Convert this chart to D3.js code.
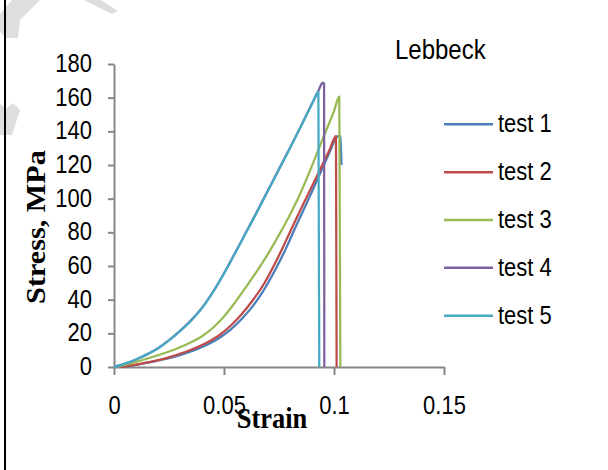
<!DOCTYPE html>
<html>
<head>
<meta charset="utf-8">
<script src="https://cdn.jsdelivr.net/npm/d3@7"></script>
<style>
  html, body { margin: 0; padding: 0; background: #fff; }
  svg { display: block; }
</style>
</head>
<body>
<script>
// ---- data ----
const seriesNames = ["test 1", "test 2", "test 3", "test 4", "test 5"];
const seriesColors = ["#4A7EBB", "#BE4B48", "#98B954", "#7D60A0", "#46AAC5"];

const test1 = [[0.004,0],[0.008,0.8],[0.013,2],[0.018,3.2],[0.023,4.6],[0.028,6.3],[0.033,8.3],[0.038,10.7],[0.043,13.6],[0.048,17.4],[0.053,22.2],[0.058,28.5],[0.063,36],[0.068,45.5],[0.073,57],[0.078,70],[0.083,84.5],[0.088,98.5],[0.093,113],[0.098,127.5],[0.1012,136.5],[0.1028,137.5],[0.1034,120]];
const test2 = [[0.003,0],[0.008,1],[0.013,2.2],[0.018,3.5],[0.023,5],[0.028,7],[0.033,9.2],[0.038,11.8],[0.043,15],[0.048,19],[0.053,24.5],[0.058,31.3],[0.063,39.5],[0.068,49],[0.073,61],[0.078,74.5],[0.083,88.5],[0.088,102],[0.093,115.5],[0.098,129],[0.1009,137.2],[0.1012,0]];
const test3 = [[0,0],[0.005,1.2],[0.01,3],[0.015,5],[0.02,7],[0.025,9.2],[0.03,11.7],[0.035,14.7],[0.04,18.3],[0.045,23.3],[0.05,30],[0.055,38.3],[0.06,47.5],[0.065,57],[0.07,67.2],[0.075,78.5],[0.08,90.5],[0.085,104],[0.09,119.5],[0.095,136],[0.1,152],[0.1024,160.6],[0.1029,0]];
const test4 = [[0,0],[0.005,2],[0.01,4.5],[0.015,7.5],[0.02,11.2],[0.025,16],[0.03,21.5],[0.035,27.7],[0.04,35.2],[0.045,44.7],[0.05,55.7],[0.055,67.7],[0.06,80],[0.065,92.3],[0.07,105],[0.075,117.7],[0.08,130.3],[0.085,143.2],[0.09,156.5],[0.0929,164],[0.0945,168.5],[0.0952,169],[0.0955,168],[0.0956,0]];
const test5 = [[0,0],[0.005,2],[0.01,4.5],[0.015,7.5],[0.02,11],[0.025,15.8],[0.03,21.3],[0.035,27.5],[0.04,35],[0.045,44.5],[0.05,55.5],[0.055,67.5],[0.06,79.7],[0.065,92],[0.07,104.7],[0.075,117.3],[0.08,130],[0.085,143],[0.09,156.2],[0.0929,163.5],[0.0933,0]];
const seriesData = [test1, test2, test3, test4, test5];

const xTicks = [0, 0.05, 0.1, 0.15];
const xTickLabels = ["0", "0.05", "0.1", "0.15"];
const yTicks = [0, 20, 40, 60, 80, 100, 120, 140, 160, 180];

const chartTitle = "Lebbeck";
const xTitle = "Strain";
const yTitle = "Stress, MPa";

// ---- drawing ----
const W = 608, H = 470;
const SY = 1.14; // vertical stretch of text in the picture
const svg = d3.select("body").append("svg").attr("width", W).attr("height", H);

// faint watermark shapes at top-left
const wm = [
  [[12,0],[40,0],[20,20],[18,38],[6,38],[0,32],[0,14]],
  [[84,0],[101,0],[118,11],[112,14]],
  [[0,104],[7,108],[13,103],[20,110],[12,135],[0,135]]
];
svg.selectAll("polygon.wm").data(wm).join("polygon")
  .attr("class", "wm")
  .attr("points", d => d.map(p => p.join(",")).join(" "))
  .attr("fill", "#dedede");

// left border line
svg.append("line").attr("x1", 5).attr("x2", 5).attr("y1", 0).attr("y2", H)
  .attr("stroke", "#000").attr("stroke-width", 2);

const x = d3.scaleLinear().domain([0, 0.15]).range([114, 444]);
const y = d3.scaleLinear().domain([0, 180]).range([367, 64]);

const axisColor = "#868686";
const fontSans = "'Liberation Sans', Arial, sans-serif";
const fontSerif = "'Liberation Serif', 'Times New Roman', serif";

// Y axis
const gy = svg.append("g").attr("transform", "translate(114,0)")
  .call(d3.axisLeft(y).tickValues(yTicks).tickSize(6).tickSizeOuter(0).tickFormat(d3.format("d")));
gy.select(".domain").attr("stroke", axisColor).attr("stroke-width", 2);
gy.selectAll(".tick line").attr("stroke", axisColor).attr("stroke-width", 2);
gy.selectAll(".tick text")
  .attr("x", -22).attr("dy", null).attr("y", 6.6)
  .attr("transform", `scale(1,${SY})`)
  .attr("font-family", fontSans).attr("font-size", 22).attr("fill", "#000")
  .attr("text-anchor", "end");

// X axis
const gx = svg.append("g").attr("transform", "translate(0,367)")
  .call(d3.axisBottom(x).tickValues(xTicks).tickSize(8).tickSizeOuter(0)
    .tickFormat((d, i) => xTickLabels[i]));
gx.select(".domain").attr("stroke", axisColor).attr("stroke-width", 2);
gx.selectAll(".tick line").attr("stroke", axisColor).attr("stroke-width", 2);
gx.selectAll(".tick text")
  .attr("dy", null).attr("y", 41.2)
  .attr("transform", `scale(1,${SY})`)
  .attr("font-family", fontSans).attr("font-size", 22).attr("fill", "#000");

// lines
const line = d3.line().x(d => x(d[0])).y(d => y(d[1])).curve(d3.curveMonotoneX);
svg.append("g").selectAll("path").data(seriesData).join("path")
  .attr("d", line)
  .attr("fill", "none")
  .attr("stroke", (d, i) => seriesColors[i])
  .attr("stroke-width", 2.25)
  .attr("stroke-linejoin", "round");

// title
svg.append("text")
  .attr("transform", `translate(395,59) scale(1,${SY})`)
  .attr("font-family", fontSans).attr("font-size", 24).attr("fill", "#000")
  .text(chartTitle);

// legend
const lg = svg.append("g");
const legY = d3.scalePoint().domain(seriesNames).range([124.3, 315.7]);
lg.selectAll("line").data(seriesNames).join("line")
  .attr("x1", 444).attr("x2", 493)
  .attr("y1", d => legY(d)).attr("y2", d => legY(d))
  .attr("stroke", (d, i) => seriesColors[i]).attr("stroke-width", 2.5);
lg.selectAll("text").data(seriesNames).join("text")
  .attr("transform", d => `translate(498,${legY(d) + 8}) scale(1,${SY})`)
  .attr("font-family", fontSans).attr("font-size", 22).attr("fill", "#000")
  .text(d => d);

// axis titles
svg.append("text")
  .attr("transform", `translate(272,428) scale(1,${SY})`)
  .attr("text-anchor", "middle")
  .attr("font-family", fontSerif).attr("font-weight", "bold").attr("font-size", 26.5).attr("fill", "#000")
  .text(xTitle);

svg.append("text")
  .attr("transform", `translate(45,227) scale(1,${SY}) rotate(-90)`)
  .attr("text-anchor", "middle")
  .attr("font-family", fontSerif).attr("font-weight", "bold").attr("font-size", 26.5).attr("fill", "#000")
  .text(yTitle);
</script>
</body>
</html>
